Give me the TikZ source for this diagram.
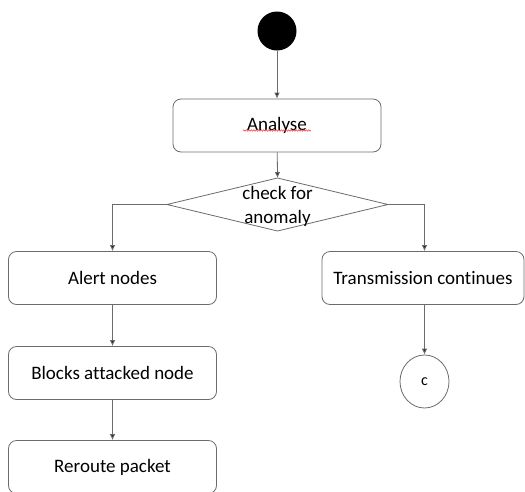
\documentclass[tikz,border=0pt]{standalone}
\usepackage{fontspec}
\setmainfont{Carlito}[Ligatures=CommonOff]
\usetikzlibrary{shapes.geometric,arrows.meta,decorations.pathmorphing}

\tikzset{
  flowline/.style={draw=black!58, line width=0.8pt},
  step box/.style={flowline, rounded corners=8pt, minimum width=208pt,
    minimum height=53pt, inner sep=0pt, font=\fontsize{19}{23}\selectfont, text=black},
  flowarrow/.style={flowline, -{Latex[length=6pt,width=5.5pt,fill=black!85]}},
}

\begin{document}
\begin{tikzpicture}[x=1pt, y=-1pt]
% ===== 画布范围 =====
\useasboundingbox (0,0) rectangle (525,491);

% ===== 起点 =====
\node[circle, fill=black, minimum size=39pt, inner sep=0pt] (start) at (277,31) {};

% ===== 流程框 =====
\node[step box] (analyse) at (277,125.5) {Analyse};
\node[diamond, flowline, minimum width=221pt, minimum height=53pt,
  inner sep=0pt, outer sep=0pt] (check) at (277.5,204.5) {};
\node[font=\fontsize{19}{24}\selectfont, align=center, text=black]
  (checktext) at (277.5,206) {check for\\anomaly};
\node[step box] (alert) at (112.5,278) {Alert nodes};
\node[step box, minimum width=202pt] (trans) at (423,278) {Transmission continues};
\node[step box] (block) at (112.5,373) {Blocks attacked node};
\node[step box] (reroute) at (112.5,467) {Reroute packet};
\node[ellipse, flowline, minimum width=49pt, minimum height=53pt,
  font=\fontsize{16}{19}\selectfont] (cend) at (424.5,381.5) {c};

% ===== 拼写下划线 =====
\draw[red!85, line width=0.5pt, decorate,
  decoration={snake, amplitude=0.7pt, segment length=2.5pt}]
  ([xshift=-1pt, yshift=-5pt]analyse.center) ++(-33,0) -- ++(68,0);

% ===== 连线 =====
\draw[flowarrow] (start) -- (analyse);
\draw[flowarrow] (analyse) -- (check.north);
\draw[flowarrow] (check.west) -| (alert.north);
\draw[flowarrow] (check.east) -| (trans.north -| cend);
\draw[flowarrow] (alert) -- (block);
\draw[flowarrow] (block) -- (reroute);
\draw[flowarrow] (trans.south -| cend) -- (cend);
\end{tikzpicture}
\end{document}
